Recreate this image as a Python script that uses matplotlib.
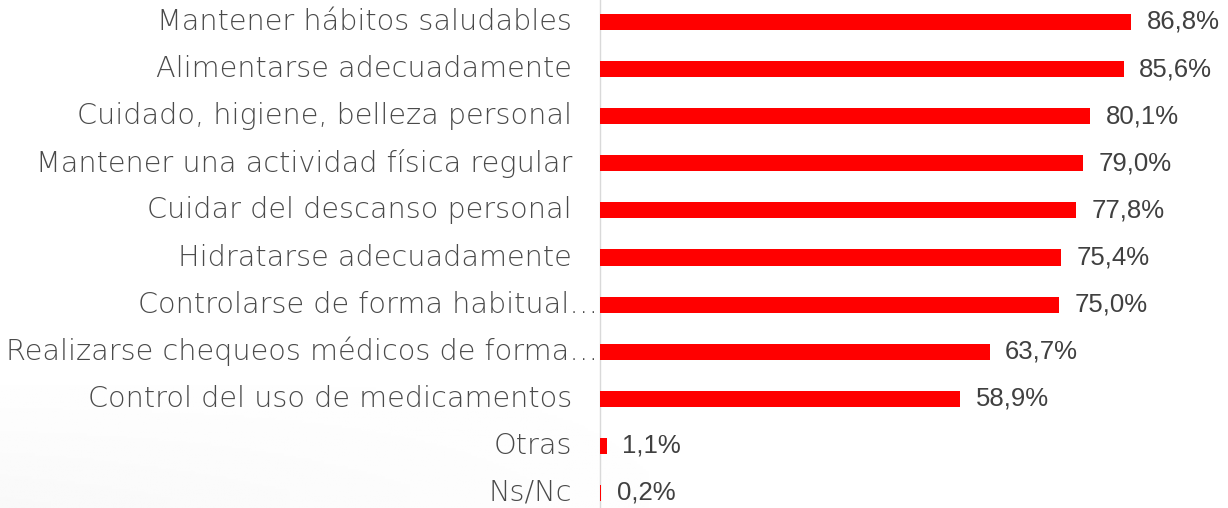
import numpy as np
import matplotlib.pyplot as plt

categorias = [
    "Mantener hábitos saludables",
    "Alimentarse adecuadamente",
    "Cuidado, higiene, belleza personal",
    "Mantener una actividad física regular",
    "Cuidar del descanso personal",
    "Hidratarse adecuadamente",
    "Controlarse de forma habitual…",
    "Realizarse chequeos médicos de forma…",
    "Control del uso de medicamentos",
    "Otras",
    "Ns/Nc",
]
valores = [86.8, 85.6, 80.1, 79.0, 77.8, 75.4, 75.0, 63.7, 58.9, 1.1, 0.2]
etiquetas = ["86,8%", "85,6%", "80,1%", "79,0%", "77,8%", "75,4%",
             "75,0%", "63,7%", "58,9%", "1,1%", "0,2%"]

fig = plt.figure(figsize=(12.28, 5.08), dpi=100)

# faint grey shading in the lower left corner
bg = fig.add_axes([0, 0, 1, 1], zorder=-5)
yy, xx = np.mgrid[0:1:200j, 0:1:400j]
shade = np.clip((0.28 - yy + 0.12 * xx) / 0.28, 0, 1) * np.clip(1 - xx * 1.6, 0, 1)
bg.imshow(1 - 0.025 * shade, cmap="gray", vmin=0, vmax=1, origin="lower",
          extent=[0, 1, 0, 1], aspect="auto")
bg.axis("off")

ax = fig.add_axes([600 / 1228, 0, 1 - 600 / 1228, 1])
ax.patch.set_alpha(0)
y = np.arange(len(valores))
ax.barh(y, valores, height=0.34, color="#ff0000", zorder=3)
ax.set_xlim(0, 628 / 6.12)
ax.set_ylim(10 + 15 / 47.1, -22 / 47.1)

for i, (v, t) in enumerate(zip(valores, etiquetas)):
    ax.annotate(t, (v, i), xytext=(11, 0), textcoords="offset points",
                va="center", ha="left", fontsize=18.5, color="#404040",
                family="Liberation Sans")

for i, c in enumerate(categorias):
    dx = -2 if c.endswith("…") else -28
    ax.annotate(c, (0, i), xytext=(dx * 0.72, 0), textcoords="offset points",
                va="center", ha="right", fontsize=20.7, color="#4a4a4a",
                family="DejaVu Sans", fontweight="light", annotation_clip=False)

ax.set_xticks([])
ax.set_yticks([])
for s in ["top", "right", "bottom"]:
    ax.spines[s].set_visible(False)
ax.spines["left"].set_color("#d9d9d9")
ax.spines["left"].set_linewidth(1)

fig.savefig("out.png", dpi=100)
